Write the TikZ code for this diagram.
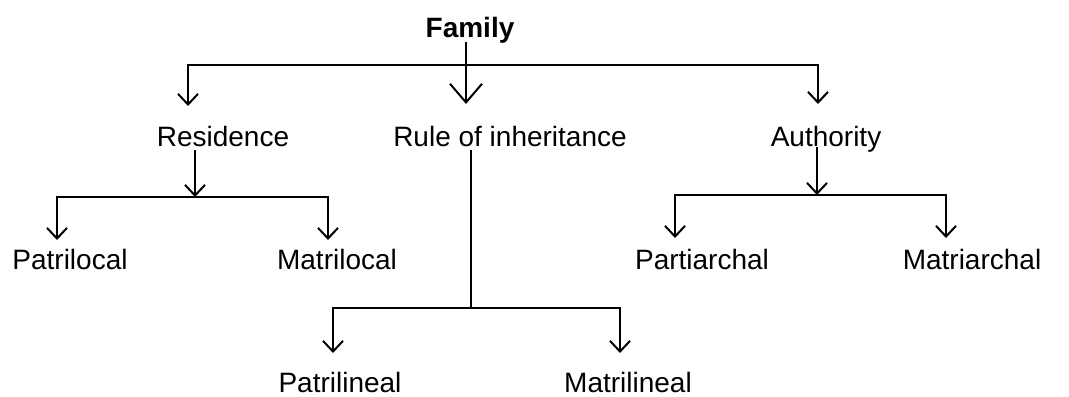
\documentclass[tikz,border=0pt]{standalone}
\usepackage{fontspec}
\setmainfont{Liberation Sans}
\usetikzlibrary{arrows.meta}
\begin{document}
\begin{tikzpicture}
	[x=0.75pt,y=-0.75pt,
	word/.style={anchor=base,inner sep=0pt,font=\fontsize{21}{25}\selectfont},
	link/.style={line width=1.5pt},
	>={Straight Barb[length=8pt,width=15pt]},
	bigtip/.style={-{Straight Barb[length=14pt,width=24pt]}}]
	\useasboundingbox (0,0) rectangle (1069,396);
	% texts
	\node[word,name=family,font=\fontsize{21}{25}\selectfont\bfseries] at (470,37) {Family};
	\node[word,name=res] at (223,146) {Residence};
	\node[word,name=rule] at (510,146) {Rule of inheritance};
	\node[word,name=auth] at (826,146) {Authority};
	\node[word,name=patloc] at (70,269) {Patrilocal};
	\node[word,name=matloc] at (337,269) {Matrilocal};
	\node[word,name=patarch] at (702,269) {Partiarchal};
	\node[word,name=matarch] at (972,269) {Matriarchal};
	\node[word,name=patlin] at (340,392) {Patrilineal};
	\node[word,name=matlin] at (628,392) {Matrilineal};
	% joints and arrow ends
	\coordinate (top) at (466,65);
	\coordinate (resjoin) at (195,197);
	\coordinate (rulejoin) at (471,308);
	\coordinate (authjoin) at (817,195);
	\coordinate (tipres) at (188,106);
	\coordinate (tiprule) at (466,104);
	\coordinate (tipauth) at (818,104);
	\coordinate (tippatloc) at (57,240);
	\coordinate (tipmatloc) at (328,240);
	\coordinate (tippatarch) at (675,238);
	\coordinate (tipmatarch) at (946,238);
	\coordinate (tippatlin) at (333,353);
	\coordinate (tipmatlin) at (620,353);
	% family level
	\draw[link,bigtip]([yshift=-4pt]family.base -| top)--(tiprule);
	\draw[link,->](top)-|(tipres);
	\draw[link,->](top)-|(tipauth);
	% residence
	\draw[link,->]([yshift=-3pt]res.base -| resjoin)--(resjoin);
	\draw[link,->](resjoin)-|(tippatloc);
	\draw[link,->](resjoin)-|(tipmatloc);
	% inheritance
	\draw[link]([yshift=-3pt]rule.base -| rulejoin)--(rulejoin);
	\draw[link,->](rulejoin)-|(tippatlin);
	\draw[link,->](rulejoin)-|(tipmatlin);
	% authority
	\draw[link,->]([yshift=-1pt]auth.base -| authjoin)--(authjoin);
	\draw[link,->](authjoin)-|(tippatarch);
	\draw[link,->](authjoin)-|(tipmatarch);
\end{tikzpicture}
\end{document}
